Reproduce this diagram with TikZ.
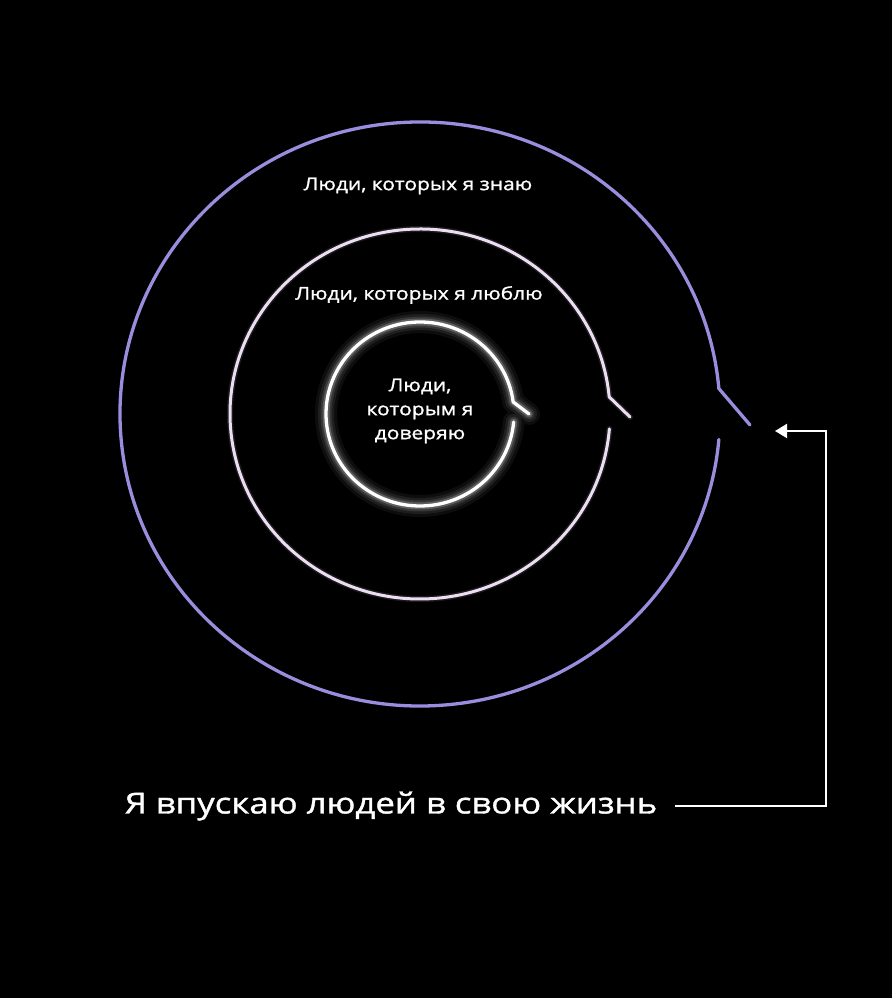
\documentclass[tikz,border=0pt]{standalone}
\usepackage{fontspec}
\setmainfont{Open Sans}[FakeStretch=1.2, FakeBold=1.3]
\usetikzlibrary{arrows.meta,calc}
\definecolor{outerc}{RGB}{155,140,222}
\definecolor{midc}{RGB}{236,222,242}
\tikzset{
  lbl/.style={text=white, inner sep=0pt, font=\fontsize{17.5}{19}\selectfont},
  ring/.style={line width=3pt, line cap=round, line join=round},
  conn/.style={draw=white, line width=2pt, -{Triangle[length=12pt,width=14pt]}},
}
\begin{document}
\begin{tikzpicture}[x=1pt,y=1pt]
\fill[black] (0,0) rectangle (892,998);
\useasboundingbox (0,0) rectangle (892,998);
\coordinate (c) at (420,584);
% outer ring
\coordinate (otick) at (750,573);
\draw[ring, outerc, line width=3.3pt] (otick) -- ($(c)+(5:300 and 292)$) arc[start angle=5, end angle=355, x radius=300, y radius=292];
% middle ring
\coordinate (mtick) at (630,581);
\draw[ring, midc, line width=6pt, opacity=0.12] (mtick) -- ($(c)+(5.3:190 and 185)$) arc[start angle=5.3, end angle=355.4, x radius=190, y radius=185];
\draw[ring, midc] (mtick) -- ($(c)+(5.3:190 and 185)$) arc[start angle=5.3, end angle=355.4, x radius=190, y radius=185];
% inner ring glow
\coordinate (itick) at (529,584);
\foreach \w/\o in {22/0.05, 16/0.07, 11/0.11, 7/0.2}{
  \draw[ring, white, line width=\w pt, opacity=\o] (itick) -- ($(c)+(7.5:94 and 92)$) arc[start angle=7.5, end angle=355, x radius=94, y radius=92];
}
\draw[ring, white, line width=3.3pt] (itick) -- ($(c)+(7.5:94 and 92)$) arc[start angle=7.5, end angle=355, x radius=94, y radius=92];
% labels
\node[lbl] (know) at (418,812) {Люди, которых я знаю};
\node[lbl] (love) at (419,703) {Люди, которых я люблю};
\node[lbl, align=center, font=\fontsize{17.5}{24}\selectfont] (trust) at (420,587) {Люди,\\которым я\\доверяю};
\node[text=white, inner sep=0pt, font=\fontsize{29}{34}\selectfont] (enter) at (391,192) {Я впускаю людей в свою жизнь};
% connector
\coordinate (lstart) at (675,192);
\coordinate (turn) at (826,567);
\coordinate (tip) at (775,567);
\draw[conn] (lstart) -| (turn) -- (tip);
\end{tikzpicture}
\end{document}
